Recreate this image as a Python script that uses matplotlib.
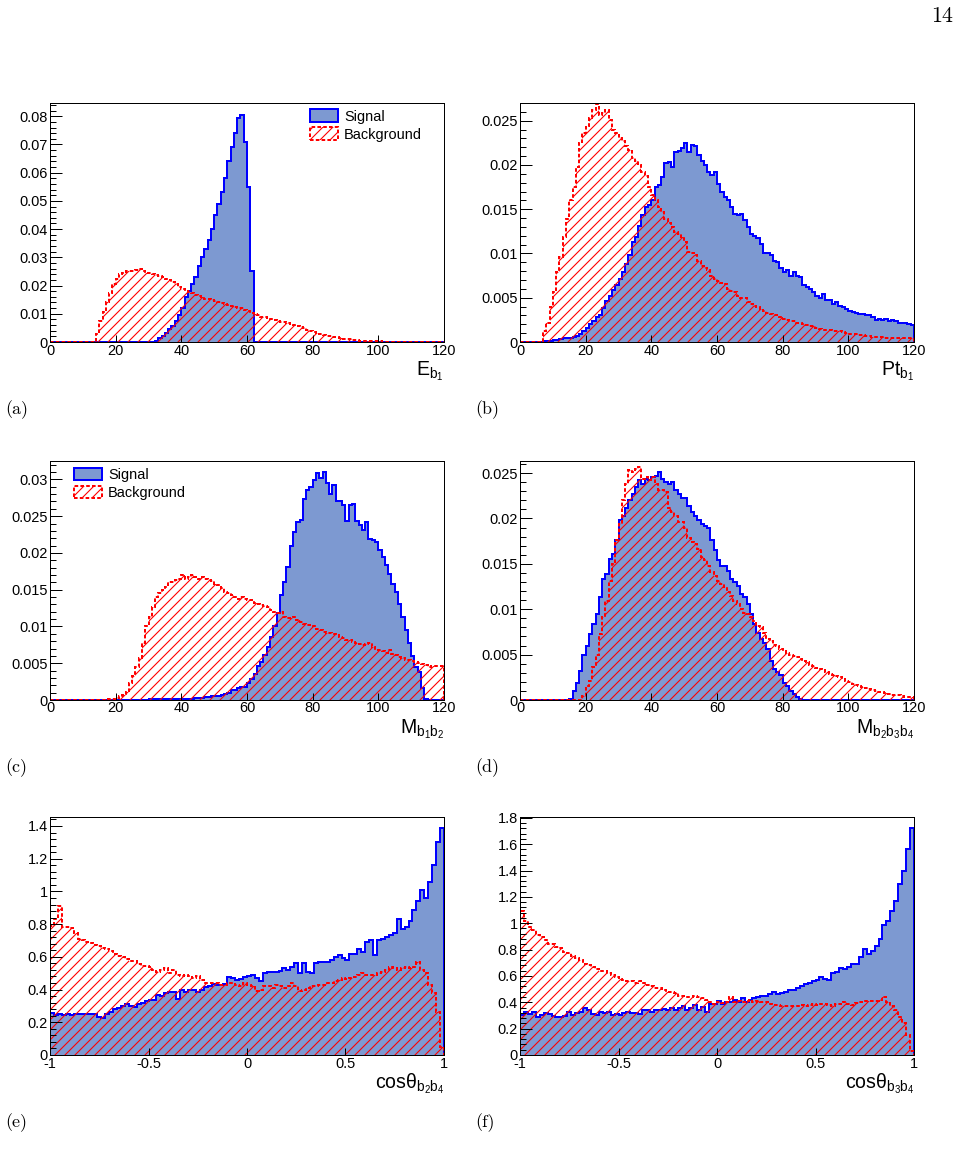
import numpy as np
import matplotlib
matplotlib.use("Agg")
from matplotlib import pyplot as plt
from matplotlib.ticker import MultipleLocator, FuncFormatter
from matplotlib.transforms import ScaledTranslation

DPI = 60
W, H = 958, 1162


def pt(px):
    # pixel size -> points at this dpi
    return px * 72.0 / DPI


plt.rcParams['font.family'] = ['Liberation Sans', 'DejaVu Sans']
plt.rcParams['mathtext.fontset'] = 'custom'
plt.rcParams['mathtext.rm'] = 'Liberation Sans'
plt.rcParams['mathtext.it'] = 'Liberation Sans'
plt.rcParams['hatch.linewidth'] = pt(1.1)

SIG_FILL = '#7d99d1'
SIG_LINE = '#0000ff'
BKG_LINE = '#ff0000'

mass_edges = np.linspace(0, 120, 121)
cos_edges = np.linspace(-1, 1, 101)

# (a) E_b1
e_b1_sig = [
    0, 0, 0, 0, 0, 0, 0, 0, 0, 0,
    0, 0, 0, 0, 0, 0, 0, 0, 0, 0,
    0, 0, 0, 0, 0, 0, 0, 0, 0, 0,
    0, 0, 0.0005, 0.0013, 0.0023, 0.0033, 0.0045, 0.0058, 0.0075, 0.0095,
    0.0120, 0.0160, 0.0180, 0.0205, 0.0230, 0.0270, 0.0300, 0.0330, 0.0360, 0.0400,
    0.0450, 0.0490, 0.0530, 0.0580, 0.0640, 0.0690, 0.0740, 0.0795, 0.0805, 0.0710,
    0.0550, 0.0250, 0, 0, 0, 0, 0, 0, 0, 0,
    0, 0, 0, 0, 0, 0, 0, 0, 0, 0,
    0, 0, 0, 0, 0, 0, 0, 0, 0, 0,
    0, 0, 0, 0, 0, 0, 0, 0, 0, 0,
    0, 0, 0, 0, 0, 0, 0, 0, 0, 0,
    0, 0, 0, 0, 0, 0, 0, 0, 0, 0,
]
e_b1_bkg = [
    0, 0, 0, 0, 0, 0, 0, 0, 0, 0,
    0, 0, 0, 0, 0.0030, 0.0075, 0.0105, 0.0140, 0.0175, 0.0205,
    0.0225, 0.0240, 0.0245, 0.0250, 0.0250, 0.0252, 0.0255, 0.0258, 0.0252, 0.0245,
    0.0243, 0.0240, 0.0238, 0.0235, 0.0232, 0.0225, 0.0218, 0.0212, 0.0205, 0.0195,
    0.0188, 0.0182, 0.0176, 0.0172, 0.0168, 0.0163, 0.0158, 0.0152, 0.0152, 0.0148,
    0.0145, 0.0140, 0.0137, 0.0133, 0.0130, 0.0127, 0.0124, 0.0122, 0.0119, 0.0115,
    0.0110, 0.0103, 0.0098, 0.0094, 0.0090, 0.0087, 0.0084, 0.0080, 0.0078, 0.0075,
    0.0072, 0.0070, 0.0067, 0.0064, 0.0060, 0.0057, 0.0053, 0.0049, 0.0044, 0.0040,
    0.0036, 0.0032, 0.0029, 0.0026, 0.0023, 0.0020, 0.0018, 0.0016, 0.0014, 0.0012,
    0.0010, 0.0009, 0.0008, 0.0006, 0.0005, 0.0004, 0.0004, 0.0003, 0.0003, 0.0002,
    0.0002, 0.0001, 0.0001, 0.0001, 0.0001, 0.0001, 0, 0, 0, 0,
    0, 0, 0, 0, 0, 0, 0, 0, 0, 0,
]

# (b) Pt_b1
pt_b1_sig = [
    0, 0, 0, 0, 0, 0, 0, 0.0001, 0.0001, 0.0001,
    0.0002, 0.0002, 0.0003, 0.0004, 0.0005, 0.0005, 0.0006, 0.0007, 0.0009, 0.0012,
    0.0016, 0.0020, 0.0024, 0.0028, 0.0031, 0.0038, 0.0046, 0.0052, 0.0059, 0.0064,
    0.0071, 0.0079, 0.0088, 0.0098, 0.0113, 0.0119, 0.0131, 0.0143, 0.0153, 0.0155,
    0.0160, 0.0175, 0.0177, 0.0186, 0.0202, 0.0203, 0.0198, 0.0215, 0.0216, 0.0219,
    0.0225, 0.0215, 0.0223, 0.0221, 0.0211, 0.0204, 0.0200, 0.0192, 0.0189, 0.0192,
    0.0179, 0.0170, 0.0164, 0.0160, 0.0153, 0.0145, 0.0143, 0.0145, 0.0138, 0.0130,
    0.0122, 0.0120, 0.0117, 0.0111, 0.0100, 0.0100, 0.0098, 0.0092, 0.0090, 0.0084,
    0.0079, 0.0081, 0.0075, 0.0079, 0.0075, 0.0073, 0.0064, 0.0062, 0.0060, 0.0056,
    0.0052, 0.0050, 0.0054, 0.0048, 0.0047, 0.0043, 0.0045, 0.0041, 0.0039, 0.0037,
    0.0035, 0.0034, 0.0033, 0.0032, 0.0032, 0.0031, 0.0030, 0.0028, 0.0025, 0.0026,
    0.0025, 0.0026, 0.0024, 0.0025, 0.0024, 0.0022, 0.0021, 0.0021, 0.0020, 0.0019,
]
pt_b1_bkg = [
    0, 0, 0, 0, 0, 0, 0.0001, 0.0012, 0.0022, 0.0039,
    0.0056, 0.0079, 0.0096, 0.0119, 0.0139, 0.0160, 0.0175, 0.0198, 0.0225, 0.0236,
    0.0244, 0.0253, 0.0262, 0.0269, 0.0257, 0.0259, 0.0262, 0.0251, 0.0240, 0.0236,
    0.0230, 0.0227, 0.0221, 0.0217, 0.0208, 0.0204, 0.0200, 0.0192, 0.0187, 0.0175,
    0.0166, 0.0160, 0.0153, 0.0147, 0.0139, 0.0134, 0.0130, 0.0124, 0.0122, 0.0119,
    0.0113, 0.0102, 0.0100, 0.0098, 0.0092, 0.0086, 0.0084, 0.0081, 0.0075, 0.0071,
    0.0069, 0.0067, 0.0066, 0.0060, 0.0058, 0.0056, 0.0052, 0.0050, 0.0050, 0.0045,
    0.0043, 0.0041, 0.0039, 0.0037, 0.0035, 0.0033, 0.0032, 0.0031, 0.0030, 0.0028,
    0.0026, 0.0025, 0.0024, 0.0024, 0.0022, 0.0022, 0.0020, 0.0019, 0.0018, 0.0018,
    0.0016, 0.0015, 0.0014, 0.0013, 0.0013, 0.0012, 0.0012, 0.0012, 0.0011, 0.0010,
    0.0009, 0.0009, 0.0009, 0.0008, 0.0008, 0.0007, 0.0007, 0.0006, 0.0006, 0.0006,
    0.0006, 0.0005, 0.0005, 0.0005, 0.0005, 0.0004, 0.0004, 0.0004, 0.0004, 0.0004,
]

# (c) M_b1b2
m_b1b2_sig = [
    0, 0, 0, 0, 0, 0, 0, 0, 0, 0,
    0, 0, 0, 0, 0, 0, 0, 0, 0, 0,
    0, 0, 0, 0, 0, 0, 0, 0, 0, 0,
    0.0001, 0.0001, 0.0001, 0.0001, 0.0001, 0.0001, 0.0001, 0.0001, 0.0001, 0.0001,
    0.0002, 0.0002, 0.0002, 0.0002, 0.0003, 0.0003, 0.0003, 0.0004, 0.0004, 0.0005,
    0.0005, 0.0006, 0.0007, 0.0008, 0.0010, 0.0013, 0.0014, 0.0016, 0.0017, 0.0018,
    0.0023, 0.0029, 0.0036, 0.0046, 0.0052, 0.0061, 0.0072, 0.0086, 0.0100, 0.0118,
    0.0143, 0.0161, 0.0181, 0.0210, 0.0229, 0.0242, 0.0245, 0.0274, 0.0285, 0.0290,
    0.0299, 0.0309, 0.0302, 0.0310, 0.0295, 0.0280, 0.0292, 0.0271, 0.0271, 0.0265,
    0.0244, 0.0265, 0.0267, 0.0244, 0.0238, 0.0231, 0.0242, 0.0219, 0.0217, 0.0215,
    0.0204, 0.0195, 0.0183, 0.0172, 0.0158, 0.0147, 0.0131, 0.0113, 0.0095, 0.0077,
    0.0060, 0.0045, 0.0038, 0.0016, 0.0002, 0, 0, 0, 0, 0,
]
m_b1b2_bkg = [
    0, 0, 0, 0, 0, 0, 0, 0, 0, 0,
    0, 0, 0, 0, 0, 0, 0, 0.0001, 0.0001, 0.0002,
    0.0003, 0.0005, 0.0007, 0.0011, 0.0023, 0.0032, 0.0045, 0.0057, 0.0077, 0.0100,
    0.0113, 0.0127, 0.0140, 0.0145, 0.0149, 0.0154, 0.0161, 0.0161, 0.0163, 0.0165,
    0.0170, 0.0165, 0.0167, 0.0170, 0.0167, 0.0165, 0.0167, 0.0165, 0.0163, 0.0162,
    0.0158, 0.0156, 0.0152, 0.0147, 0.0145, 0.0143, 0.0140, 0.0138, 0.0140, 0.0138,
    0.0136, 0.0136, 0.0132, 0.0130, 0.0129, 0.0128, 0.0127, 0.0122, 0.0120, 0.0118,
    0.0120, 0.0113, 0.0111, 0.0111, 0.0113, 0.0109, 0.0106, 0.0104, 0.0102, 0.0102,
    0.0100, 0.0097, 0.0095, 0.0093, 0.0091, 0.0091, 0.0090, 0.0088, 0.0086, 0.0084,
    0.0082, 0.0081, 0.0079, 0.0077, 0.0076, 0.0075, 0.0076, 0.0077, 0.0072, 0.0068,
    0.0068, 0.0066, 0.0064, 0.0068, 0.0063, 0.0061, 0.0058, 0.0057, 0.0055, 0.0054,
    0.0053, 0.0051, 0.0050, 0.0049, 0.0048, 0.0045, 0.0046, 0.0046, 0.0046, 0.0046,
]

# (d) M_b2b3b4
m_b2b3b4_sig = [
    0, 0, 0, 0, 0, 0, 0, 0, 0, 0,
    0, 0, 0, 0, 0, 0.0001, 0.0010, 0.0019, 0.0032, 0.0050,
    0.0060, 0.0073, 0.0084, 0.0095, 0.0113, 0.0133, 0.0139, 0.0155, 0.0161, 0.0176,
    0.0198, 0.0203, 0.0211, 0.0220, 0.0227, 0.0235, 0.0242, 0.0238, 0.0244, 0.0242,
    0.0246, 0.0247, 0.0251, 0.0244, 0.0240, 0.0238, 0.0240, 0.0231, 0.0227, 0.0222,
    0.0222, 0.0214, 0.0207, 0.0203, 0.0198, 0.0194, 0.0192, 0.0189, 0.0176, 0.0165,
    0.0154, 0.0148, 0.0148, 0.0142, 0.0133, 0.0130, 0.0126, 0.0117, 0.0113, 0.0106,
    0.0095, 0.0084, 0.0074, 0.0067, 0.0063, 0.0056, 0.0043, 0.0034, 0.0031, 0.0027,
    0.0019, 0.0015, 0.0010, 0.0007, 0.0003, 0.0001, 0, 0, 0, 0,
    0, 0, 0, 0, 0, 0, 0, 0, 0, 0,
    0, 0, 0, 0, 0, 0, 0, 0, 0, 0,
    0, 0, 0, 0, 0, 0, 0, 0, 0, 0,
]
m_b2b3b4_bkg = [
    0, 0, 0, 0, 0, 0, 0, 0, 0, 0,
    0, 0, 0, 0, 0, 0, 0, 0, 0, 0.0004,
    0.0015, 0.0021, 0.0036, 0.0050, 0.0073, 0.0091, 0.0109, 0.0131, 0.0150, 0.0176,
    0.0194, 0.0220, 0.0238, 0.0253, 0.0251, 0.0255, 0.0257, 0.0244, 0.0246, 0.0242,
    0.0246, 0.0238, 0.0231, 0.0231, 0.0229, 0.0212, 0.0207, 0.0203, 0.0196, 0.0196,
    0.0189, 0.0179, 0.0174, 0.0172, 0.0166, 0.0157, 0.0154, 0.0148, 0.0141, 0.0137,
    0.0131, 0.0128, 0.0124, 0.0119, 0.0115, 0.0109, 0.0106, 0.0100, 0.0096, 0.0095,
    0.0091, 0.0087, 0.0082, 0.0080, 0.0074, 0.0067, 0.0065, 0.0061, 0.0059, 0.0056,
    0.0054, 0.0052, 0.0050, 0.0049, 0.0047, 0.0045, 0.0043, 0.0042, 0.0039, 0.0038,
    0.0035, 0.0034, 0.0033, 0.0031, 0.0029, 0.0028, 0.0026, 0.0025, 0.0023, 0.0021,
    0.0020, 0.0018, 0.0017, 0.0015, 0.0014, 0.0013, 0.0012, 0.0011, 0.0010, 0.0009,
    0.0009, 0.0008, 0.0007, 0.0006, 0.0006, 0.0005, 0.0004, 0.0003, 0.0003, 0.0003,
]

# (e) cos theta_b2b4
cos_b2b4_sig = [
    0.254, 0.244, 0.250, 0.246, 0.248, 0.246, 0.250, 0.252, 0.250, 0.252,
    0.250, 0.248, 0.234, 0.226, 0.250, 0.262, 0.284, 0.286, 0.300, 0.314,
    0.300, 0.296, 0.310, 0.318, 0.330, 0.336, 0.338, 0.364, 0.358, 0.376,
    0.386, 0.388, 0.340, 0.398, 0.388, 0.398, 0.398, 0.388, 0.400, 0.418,
    0.420, 0.436, 0.430, 0.425, 0.435, 0.478, 0.470, 0.460, 0.466, 0.474,
    0.480, 0.488, 0.470, 0.455, 0.500, 0.508, 0.506, 0.510, 0.512, 0.530,
    0.522, 0.540, 0.560, 0.500, 0.560, 0.505, 0.500, 0.560, 0.570, 0.568,
    0.566, 0.580, 0.600, 0.612, 0.590, 0.580, 0.620, 0.620, 0.650, 0.630,
    0.690, 0.700, 0.610, 0.700, 0.712, 0.720, 0.735, 0.745, 0.834, 0.770,
    0.780, 0.820, 0.885, 0.940, 1.010, 0.960, 1.060, 1.160, 1.300, 1.385,
]
cos_b2b4_bkg = [
    0.79, 0.83, 0.91, 0.78, 0.78, 0.775, 0.745, 0.71, 0.70, 0.69,
    0.685, 0.675, 0.665, 0.655, 0.645, 0.635, 0.62, 0.605, 0.60, 0.585,
    0.575, 0.575, 0.555, 0.545, 0.545, 0.54, 0.52, 0.51, 0.52, 0.53,
    0.50, 0.52, 0.49, 0.48, 0.49, 0.48, 0.47, 0.48, 0.46, 0.44,
    0.44, 0.44, 0.44, 0.43, 0.43, 0.44, 0.44, 0.43, 0.42, 0.44,
    0.43, 0.42, 0.39, 0.40, 0.42, 0.42, 0.41, 0.43, 0.42, 0.41,
    0.42, 0.44, 0.42, 0.39, 0.40, 0.41, 0.42, 0.42, 0.43, 0.43,
    0.44, 0.44, 0.45, 0.46, 0.47, 0.465, 0.47, 0.475, 0.49, 0.50,
    0.49, 0.49, 0.49, 0.50, 0.51, 0.52, 0.535, 0.53, 0.52, 0.53,
    0.535, 0.53, 0.54, 0.57, 0.52, 0.50, 0.43, 0.38, 0.26, 0.05,
]

# (f) cos theta_b3b4
cos_b3b4_sig = [
    0.303, 0.330, 0.310, 0.325, 0.285, 0.300, 0.315, 0.310, 0.295, 0.290,
    0.290, 0.295, 0.330, 0.305, 0.315, 0.325, 0.355, 0.340, 0.310, 0.305,
    0.330, 0.315, 0.330, 0.300, 0.310, 0.300, 0.315, 0.325, 0.315, 0.320,
    0.310, 0.340, 0.340, 0.330, 0.340, 0.340, 0.350, 0.340, 0.355, 0.345,
    0.355, 0.370, 0.340, 0.355, 0.380, 0.340, 0.365, 0.330, 0.390, 0.390,
    0.410, 0.390, 0.400, 0.400, 0.415, 0.400, 0.430, 0.400, 0.420, 0.430,
    0.440, 0.445, 0.450, 0.465, 0.480, 0.465, 0.470, 0.480, 0.495, 0.490,
    0.510, 0.525, 0.540, 0.550, 0.560, 0.570, 0.590, 0.580, 0.570, 0.620,
    0.630, 0.660, 0.650, 0.665, 0.690, 0.690, 0.745, 0.805, 0.770, 0.790,
    0.830, 0.880, 0.990, 1.020, 1.090, 1.170, 1.300, 1.400, 1.560, 1.720,
]
cos_b3b4_bkg = [
    1.09, 1.02, 0.975, 0.95, 0.91, 0.895, 0.875, 0.845, 0.84, 0.82,
    0.81, 0.785, 0.775, 0.755, 0.735, 0.72, 0.69, 0.68, 0.665, 0.655,
    0.64, 0.635, 0.62, 0.61, 0.595, 0.58, 0.57, 0.565, 0.56, 0.55,
    0.56, 0.545, 0.53, 0.52, 0.505, 0.505, 0.49, 0.48, 0.475, 0.47,
    0.45, 0.45, 0.44, 0.44, 0.45, 0.44, 0.43, 0.415, 0.40, 0.39,
    0.40, 0.395, 0.405, 0.44, 0.40, 0.41, 0.40, 0.41, 0.42, 0.405,
    0.41, 0.405, 0.40, 0.39, 0.38, 0.38, 0.375, 0.37, 0.375, 0.37,
    0.375, 0.38, 0.37, 0.38, 0.39, 0.38, 0.385, 0.39, 0.38, 0.375,
    0.39, 0.39, 0.40, 0.39, 0.38, 0.395, 0.40, 0.41, 0.41, 0.41,
    0.41, 0.42, 0.44, 0.40, 0.37, 0.34, 0.29, 0.24, 0.15, 0.03,
]

fig = plt.figure(figsize=(W / DPI, H / DPI), dpi=DPI)
fig.patch.set_facecolor('white')

fmt = FuncFormatter(lambda v, p: '%g' % round(v, 6))


def draw_panel(box, edges, sig, bkg, ylim, ystep, yminor, xstep, xlabel, tag, legend_at=None):
    l, t, r, b = box
    ax = fig.add_axes([l / W, 1 - b / H, (r - l) / W, (b - t) / H])
    ax.stairs(sig, edges, fill=True, facecolor=SIG_FILL, edgecolor=SIG_LINE,
              linewidth=pt(2), label='Signal')
    ax.stairs(bkg, edges, fill=True, facecolor='none', edgecolor=BKG_LINE, hatch='//',
              linewidth=pt(2), linestyle=(0, (1.8, 1.1)), label='Background')
    ax.set_xlim(edges[0], edges[-1])
    ax.set_ylim(0, ylim)

    ax.xaxis.set_major_locator(MultipleLocator(xstep))
    ax.yaxis.set_major_locator(MultipleLocator(ystep))
    ax.yaxis.set_minor_locator(MultipleLocator(yminor))
    ax.xaxis.set_major_formatter(fmt)
    ax.yaxis.set_major_formatter(fmt)
    ax.tick_params(axis='both', which='both', direction='in', top=False, right=False,
                   width=pt(1), colors='black', labelsize=pt(14.5))
    ax.tick_params(axis='y', which='major', length=pt(12), pad=pt(2))
    ax.tick_params(axis='y', which='minor', length=pt(6))
    ax.tick_params(axis='x', which='major', length=pt(7), pad=pt(1.5))
    for s in ax.spines.values():
        s.set_linewidth(pt(1))

    off = ScaledTranslation(0, -33 / DPI, fig.dpi_scale_trans)
    ax.text(1.0, 0.0, xlabel, transform=ax.transAxes + off, ha='right', va='baseline',
            fontsize=pt(19.5))

    tag_x = 5 if l < 400 else 475
    fig.text(tag_x / W, 1 - (b + 72) / H, tag, family='cmr10', fontsize=pt(18), va='baseline')

    if legend_at is not None:
        ax.legend(loc='upper left', bbox_to_anchor=legend_at, frameon=False,
                  fontsize=pt(14.5), handlelength=1.95, handleheight=0.97,
                  handletextpad=0.4, labelspacing=0.25, borderpad=0, borderaxespad=0)
    return ax


draw_panel((50, 103, 444, 342), mass_edges, e_b1_sig, e_b1_bkg, 0.0847, 0.01, 0.002, 20,
           r'$\mathrm{E_{b_1}}$', '(a)', legend_at=(0.66, 0.973))
draw_panel((520, 103, 914, 342), mass_edges, pt_b1_sig, pt_b1_bkg, 0.0270, 0.005, 0.001, 20,
           r'$\mathrm{Pt_{b_1}}$', '(b)')
draw_panel((50, 461, 444, 700), mass_edges, m_b1b2_sig, m_b1b2_bkg, 0.0325, 0.005, 0.001, 20,
           r'$\mathrm{M_{b_1b_2}}$', '(c)', legend_at=(0.061, 0.972))
draw_panel((520, 461, 914, 700), mass_edges, m_b2b3b4_sig, m_b2b3b4_bkg, 0.02633, 0.005, 0.001, 20,
           r'$\mathrm{M_{b_2b_3b_4}}$', '(d)')
draw_panel((50, 817, 444, 1055), cos_edges, cos_b2b4_sig, cos_b2b4_bkg, 1.455, 0.2, 0.04, 0.5,
           r'$\mathrm{cos\theta_{b_2b_4}}$', '(e)')
draw_panel((520, 817, 914, 1055), cos_edges, cos_b3b4_sig, cos_b3b4_bkg, 1.806, 0.2, 0.04, 0.5,
           r'$\mathrm{cos\theta_{b_3b_4}}$', '(f)')

# page number
fig.text(953 / W, 1 - 21.7 / H, '14', family='cmr10', fontsize=pt(22), ha='right', va='baseline')

fig.savefig('out.png', dpi=DPI)
